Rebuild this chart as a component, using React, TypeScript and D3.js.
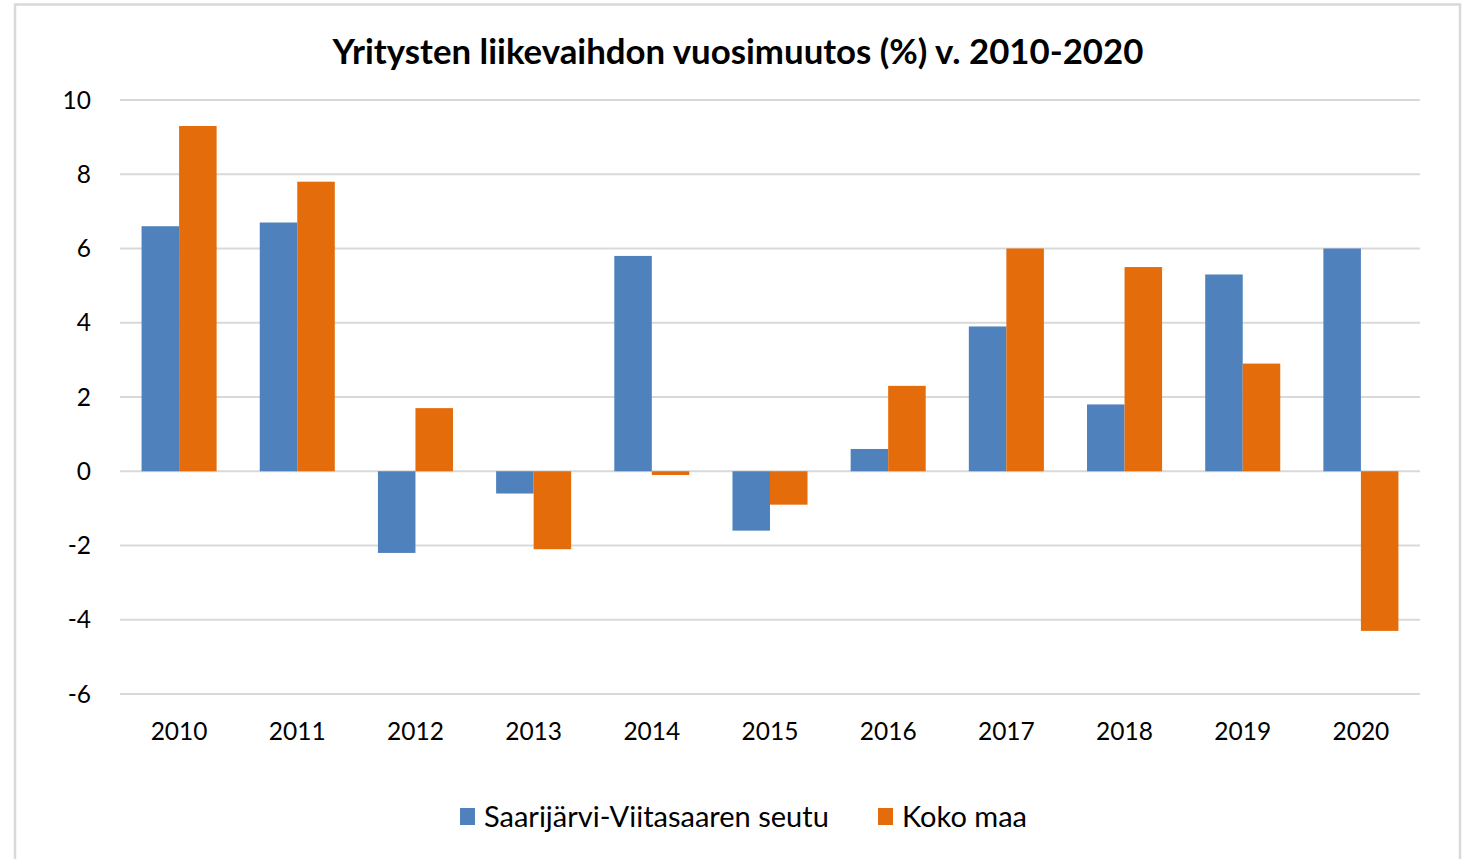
import React, { useEffect, useRef } from "react";
import * as d3 from "d3";

const years = ["2010", "2011", "2012", "2013", "2014", "2015", "2016", "2017", "2018", "2019", "2020"];
const seutu = [6.6, 6.7, -2.2, -0.6, 5.8, -1.6, 0.6, 3.9, 1.8, 5.3, 6.0];
const kokoMaa = [9.3, 7.8, 1.7, -2.1, -0.1, -0.9, 2.3, 6.0, 5.5, 2.9, -4.3];
const seriesNames = ["Saarijärvi-Viitasaaren seutu", "Koko maa"];
const colors = ["#4f81bd", "#e46c0a"];
const yTicks = [-6, -4, -2, 0, 2, 4, 6, 8, 10];

const App = () => {
  const svgRef = useRef<SVGSVGElement>(null);

  useEffect(() => {
    const w = 1466;
    const h = 859;
    const font = "Lato, 'Open Sans', sans-serif";
    const svg = d3.select(svgRef.current).attr("width", w).attr("height", h);
    svg.selectAll("*").remove();

    // chart frame
    svg.append("rect")
      .attr("x", 15).attr("y", 4.5).attr("width", 1445).attr("height", 870)
      .attr("fill", "white").attr("stroke", "#d9d9d9").attr("stroke-width", 2.5);

    svg.append("text")
      .attr("x", 738).attr("y", 64)
      .attr("text-anchor", "middle")
      .style("font-family", font).style("font-weight", "bold").style("font-size", "34.8px")
      .text("Yritysten liikevaihdon vuosimuutos (%) v. 2010-2020");

    const x = d3.scaleBand().domain(years).range([120, 1420]).paddingInner(0.365).paddingOuter(0.1825);
    const inner = d3.scaleBand().domain(["0", "1"]).range([0, x.bandwidth()]);
    const y = d3.scaleLinear().domain([-6, 10]).range([694, 100]);

    // gridlines
    svg.append("g").selectAll("line").data(yTicks).join("line")
      .attr("x1", 120).attr("x2", 1420)
      .attr("y1", d => y(d)).attr("y2", d => y(d))
      .attr("stroke", "#d9d9d9").attr("stroke-width", 2);

    svg.append("g").selectAll("text").data(yTicks).join("text")
      .attr("x", 91).attr("y", d => y(d))
      .attr("dy", "0.35em").attr("text-anchor", "end")
      .style("font-family", font).style("font-size", "24.5px").attr("fill", "#000")
      .text(d => d);

    const series = [seutu, kokoMaa];
    series.forEach((vals, si) => {
      svg.append("g").selectAll("rect").data(vals).join("rect")
        .attr("x", (_, i) => (x(years[i]) as number) + (inner(String(si)) as number))
        .attr("width", inner.bandwidth())
        .attr("y", d => y(Math.max(0, d)))
        .attr("height", d => Math.abs(y(d) - y(0)))
        .attr("fill", colors[si]);
    });

    svg.append("g").selectAll("text").data(years).join("text")
      .attr("x", d => (x(d) as number) + x.bandwidth() / 2)
      .attr("y", 731).attr("dy", "0.35em")
      .attr("text-anchor", "middle")
      .style("font-family", font).style("font-size", "24.5px")
      .text(d => d);

    // legend
    const legend = svg.append("g");
    const legendX = [460, 878];
    seriesNames.forEach((name, i) => {
      legend.append("rect")
        .attr("x", legendX[i]).attr("y", 808).attr("width", 15).attr("height", 17)
        .attr("fill", colors[i]);
      legend.append("text")
        .attr("x", legendX[i] + 24).attr("y", 817).attr("dy", "0.35em")
        .style("font-family", font).style("font-size", "29px")
        .text(name);
    });
  }, []);

  return (
    <svg ref={svgRef} style={{ position: "absolute", left: 0, top: 0 }}></svg>
  );
};

export default App;
